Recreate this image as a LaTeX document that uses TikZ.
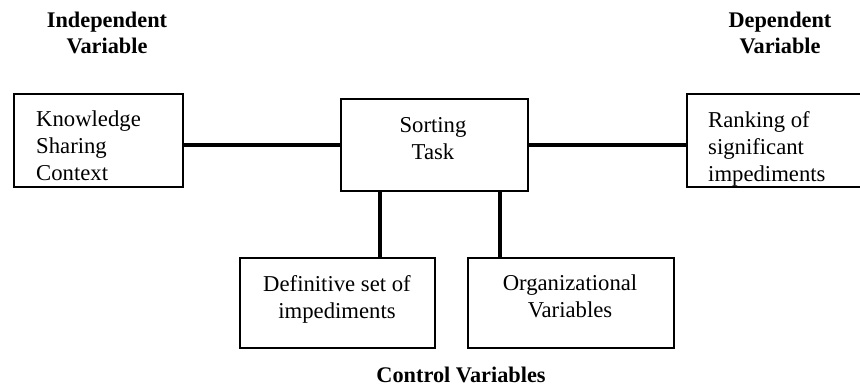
\documentclass[tikz,border=0pt]{standalone}
\usepackage{fontspec}
\setmainfont{Liberation Serif}
\begin{document}
\begin{tikzpicture}[x=1pt,y=-1pt,
  box/.style={draw=black,line width=2.2pt,rectangle,inner sep=0pt,anchor=north west},
  conn/.style={draw=black,line width=4.2pt},
  txt/.style={inner sep=0pt,font=\fontsize{22.7}{27}\selectfont},
  hdr/.style={inner sep=0pt,font=\fontsize{22.3}{26}\selectfont\bfseries,align=center,anchor=north}]
\useasboundingbox (0,0) rectangle (860,386);
\clip (0,0) rectangle (860,386);
% headers
\node[hdr] (hin) at (107,12) {Independent\\Variable};
\node[hdr] (hdep) at (780,12) {Dependent\\Variable};
\node[hdr] (hctl) at (461,367) {Control Variables};
% boxes
\node[box,minimum width=169pt,minimum height=93pt] (ksc) at (13,93) {};
\node[box,minimum width=187pt,minimum height=92pt] (sort) at (340,98) {};
\node[box,minimum width=200pt,minimum height=93pt] (rank) at (686,93) {};
\node[box,minimum width=195pt,minimum height=90pt] (def) at (239,257) {};
\node[box,minimum width=206pt,minimum height=90pt] (org) at (467,257) {};
% box texts
\node[txt,align=left,anchor=north west] (tksc) at (36,111) {Knowledge\\Sharing\\Context};
\node[txt,align=center,anchor=north] (tsort) at (433,117) {Sorting\\Task};
\node[txt,align=left,anchor=north west] (trank) at (708,111) {Ranking of\\significant\\impediments};
\node[txt,align=center,anchor=north] (tdef) at (337,275) {Definitive set of\\impediments};
\node[txt,align=center,anchor=north] (torg) at (570,275) {Organizational\\Variables};
% connectors
\draw[conn] (sort.west) -- (sort.west -| ksc.east);
\draw[conn] (sort.east) -- (sort.east -| rank.west);
\coordinate (s1) at ([xshift=40pt]sort.south west);
\coordinate (s2) at ([xshift=160pt]sort.south west);
\draw[conn] (s1) -- (s1 |- def.north);
\draw[conn] (s2) -- (s2 |- org.north);
\end{tikzpicture}
\end{document}
